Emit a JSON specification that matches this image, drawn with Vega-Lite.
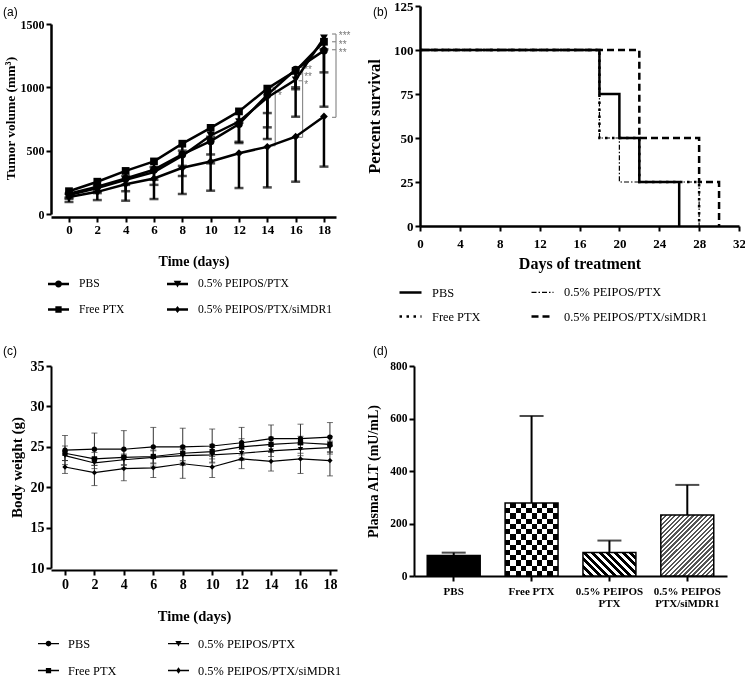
{
"$schema": "https://vega.github.io/schema/vega-lite/v6.json",
"background": "white",
"padding": {"left": 3, "top": 0, "right": 0, "bottom": 0},
"columns": 2,
"bounds": "flush",
"align": "each",
"spacing": {"row": 140, "column": 77},
"resolve": {"scale": {"shape": "independent", "strokeDash": "independent", "strokeWidth": "independent", "x": "independent", "y": "independent"}, "legend": {"shape": "independent", "strokeDash": "independent", "strokeWidth": "independent"}},
"config": {
  "view": {"stroke": null},
  "font": "Liberation Serif",
  "axis": {"grid": false, "domainColor": "black", "tickColor": "black", "domainWidth": 2.5, "tickWidth": 2, "tickSize": 5, "labelFont": "Liberation Serif", "labelFontWeight": "bold", "labelColor": "black", "titleFont": "Liberation Serif", "titleFontWeight": "bold", "titleColor": "black", "labelOverlap": false, "labelFlush": false},
  "legend": {"labelFont": "Liberation Serif", "labelColor": "black", "titleFont": "Liberation Serif"},
  "title": {"font": "Liberation Sans", "fontWeight": "normal", "fontSize": 12, "color": "black", "anchor": "start", "frame": "group"}
},
"datasets": {
  "tumor": [
    {"series": "PBS", "day": 0, "mean": 160, "lo": 130},
    {"series": "PBS", "day": 2, "mean": 215, "lo": 180},
    {"series": "PBS", "day": 4, "mean": 280, "lo": 230},
    {"series": "PBS", "day": 6, "mean": 350, "lo": 270},
    {"series": "PBS", "day": 8, "mean": 470, "lo": 380},
    {"series": "PBS", "day": 10, "mean": 575, "lo": 470},
    {"series": "PBS", "day": 12, "mean": 710, "lo": 570},
    {"series": "PBS", "day": 14, "mean": 940, "lo": 684},
    {"series": "PBS", "day": 16, "mean": 1140, "lo": 768},
    {"series": "PBS", "day": 18, "mean": 1290, "lo": 847},
    {"series": "Free PTX", "day": 0, "mean": 180, "lo": 160},
    {"series": "Free PTX", "day": 2, "mean": 255, "lo": 225},
    {"series": "Free PTX", "day": 4, "mean": 340, "lo": 300},
    {"series": "Free PTX", "day": 6, "mean": 415, "lo": 370},
    {"series": "Free PTX", "day": 8, "mean": 555, "lo": 500},
    {"series": "Free PTX", "day": 10, "mean": 680, "lo": 610},
    {"series": "Free PTX", "day": 12, "mean": 810, "lo": 720},
    {"series": "Free PTX", "day": 14, "mean": 990, "lo": 592},
    {"series": "Free PTX", "day": 16, "mean": 1130, "lo": 1000},
    {"series": "Free PTX", "day": 18, "mean": 1360, "lo": 1300},
    {"series": "0.5% PEIPOS/PTX", "day": 0, "mean": 150, "lo": 120},
    {"series": "0.5% PEIPOS/PTX", "day": 2, "mean": 205, "lo": 165},
    {"series": "0.5% PEIPOS/PTX", "day": 4, "mean": 270, "lo": 180},
    {"series": "0.5% PEIPOS/PTX", "day": 6, "mean": 330, "lo": 230},
    {"series": "0.5% PEIPOS/PTX", "day": 8, "mean": 460, "lo": 300},
    {"series": "0.5% PEIPOS/PTX", "day": 10, "mean": 620, "lo": 400},
    {"series": "0.5% PEIPOS/PTX", "day": 12, "mean": 730, "lo": 560},
    {"series": "0.5% PEIPOS/PTX", "day": 14, "mean": 920, "lo": 797},
    {"series": "0.5% PEIPOS/PTX", "day": 16, "mean": 1060, "lo": 985},
    {"series": "0.5% PEIPOS/PTX", "day": 18, "mean": 1390, "lo": 1118},
    {"series": "0.5% PEIPOS/PTX/siMDR1", "day": 0, "mean": 135, "lo": 95},
    {"series": "0.5% PEIPOS/PTX/siMDR1", "day": 2, "mean": 175, "lo": 110},
    {"series": "0.5% PEIPOS/PTX/siMDR1", "day": 4, "mean": 235, "lo": 105},
    {"series": "0.5% PEIPOS/PTX/siMDR1", "day": 6, "mean": 280, "lo": 118},
    {"series": "0.5% PEIPOS/PTX/siMDR1", "day": 8, "mean": 365, "lo": 158},
    {"series": "0.5% PEIPOS/PTX/siMDR1", "day": 10, "mean": 415, "lo": 184},
    {"series": "0.5% PEIPOS/PTX/siMDR1", "day": 12, "mean": 480, "lo": 205},
    {"series": "0.5% PEIPOS/PTX/siMDR1", "day": 14, "mean": 530, "lo": 210},
    {"series": "0.5% PEIPOS/PTX/siMDR1", "day": 16, "mean": 610, "lo": 255},
    {"series": "0.5% PEIPOS/PTX/siMDR1", "day": 18, "mean": 770, "lo": 374}
  ],
  "sig_v": [
    {"x": 14.56, "y": 539, "y2": 1000},
    {"x": 16.49, "y": 605, "y2": 1158},
    {"x": 18.85, "y": 763, "y2": 1421}
  ],
  "sig_h": [
    {"x": 14.28, "x2": 14.56, "y": 539},
    {"x": 14.28, "x2": 14.56, "y": 1000},
    {"x": 16.21, "x2": 16.49, "y": 605},
    {"x": 16.21, "x2": 16.49, "y": 1158},
    {"x": 16.21, "x2": 16.49, "y": 1105},
    {"x": 16.21, "x2": 16.49, "y": 1052},
    {"x": 18.57, "x2": 18.85, "y": 763},
    {"x": 18.57, "x2": 18.85, "y": 1421},
    {"x": 18.57, "x2": 18.85, "y": 1360},
    {"x": 18.57, "x2": 18.85, "y": 1297}
  ],
  "sig_t": [
    {"x": 14.75, "y": 955, "label": "*"},
    {"x": 16.6, "y": 1158, "label": "**"},
    {"x": 16.6, "y": 1105, "label": "**"},
    {"x": 16.6, "y": 1045, "label": "*"},
    {"x": 19.05, "y": 1430, "label": "***"},
    {"x": 19.05, "y": 1360, "label": "**"},
    {"x": 19.05, "y": 1297, "label": "**"}
  ],
  "surv": [
    {"series": "PBS", "day": 0, "pct": 100},
    {"series": "PBS", "day": 18, "pct": 75},
    {"series": "PBS", "day": 20, "pct": 50},
    {"series": "PBS", "day": 22, "pct": 25},
    {"series": "PBS", "day": 26, "pct": 0},
    {"series": "Free PTX", "day": 0, "pct": 100},
    {"series": "Free PTX", "day": 18, "pct": 50},
    {"series": "Free PTX", "day": 22, "pct": 25},
    {"series": "Free PTX", "day": 28, "pct": 0},
    {"series": "0.5% PEIPOS/PTX", "day": 0, "pct": 100},
    {"series": "0.5% PEIPOS/PTX", "day": 18, "pct": 50},
    {"series": "0.5% PEIPOS/PTX", "day": 20, "pct": 25},
    {"series": "0.5% PEIPOS/PTX", "day": 28, "pct": 0},
    {"series": "0.5% PEIPOS/PTX/siMDR1", "day": 0, "pct": 100},
    {"series": "0.5% PEIPOS/PTX/siMDR1", "day": 22, "pct": 50},
    {"series": "0.5% PEIPOS/PTX/siMDR1", "day": 28, "pct": 25},
    {"series": "0.5% PEIPOS/PTX/siMDR1", "day": 30, "pct": 0}
  ],
  "weight": [
    {"series": "PBS", "day": 0, "mean": 24.6, "lo": 22.8, "hi": 26.4},
    {"series": "PBS", "day": 2, "mean": 24.7, "lo": 22.7, "hi": 26.7},
    {"series": "PBS", "day": 4, "mean": 24.7, "lo": 22.4, "hi": 27.0},
    {"series": "PBS", "day": 6, "mean": 25.0, "lo": 22.6, "hi": 27.4},
    {"series": "PBS", "day": 8, "mean": 25.0, "lo": 22.7, "hi": 27.3},
    {"series": "PBS", "day": 10, "mean": 25.1, "lo": 23.0, "hi": 27.2},
    {"series": "PBS", "day": 12, "mean": 25.5, "lo": 23.6, "hi": 27.4},
    {"series": "PBS", "day": 14, "mean": 26.0, "lo": 24.3, "hi": 27.7},
    {"series": "PBS", "day": 16, "mean": 26.0, "lo": 24.2, "hi": 27.8},
    {"series": "PBS", "day": 18, "mean": 26.2, "lo": 24.4, "hi": 28.0},
    {"series": "Free PTX", "day": 0, "mean": 24.2, "lo": 23.3, "hi": 25.1},
    {"series": "Free PTX", "day": 2, "mean": 23.5, "lo": 22.7, "hi": 24.3},
    {"series": "Free PTX", "day": 4, "mean": 23.7, "lo": 22.8, "hi": 24.6},
    {"series": "Free PTX", "day": 6, "mean": 23.8, "lo": 23.0, "hi": 24.6},
    {"series": "Free PTX", "day": 8, "mean": 24.2, "lo": 23.3, "hi": 25.1},
    {"series": "Free PTX", "day": 10, "mean": 24.4, "lo": 23.5, "hi": 25.3},
    {"series": "Free PTX", "day": 12, "mean": 25.0, "lo": 24.0, "hi": 26.0},
    {"series": "Free PTX", "day": 14, "mean": 25.3, "lo": 24.4, "hi": 26.2},
    {"series": "Free PTX", "day": 16, "mean": 25.5, "lo": 24.7, "hi": 26.3},
    {"series": "Free PTX", "day": 18, "mean": 25.3, "lo": 24.3, "hi": 26.3},
    {"series": "0.5% PEIPOS/PTX", "day": 0, "mean": 23.9, "lo": 23.3, "hi": 24.5},
    {"series": "0.5% PEIPOS/PTX", "day": 2, "mean": 23.0, "lo": 22.3, "hi": 23.7},
    {"series": "0.5% PEIPOS/PTX", "day": 4, "mean": 23.4, "lo": 22.7, "hi": 24.1},
    {"series": "0.5% PEIPOS/PTX", "day": 6, "mean": 23.7, "lo": 22.9, "hi": 24.5},
    {"series": "0.5% PEIPOS/PTX", "day": 8, "mean": 23.9, "lo": 23.1, "hi": 24.7},
    {"series": "0.5% PEIPOS/PTX", "day": 10, "mean": 24.0, "lo": 23.1, "hi": 24.9},
    {"series": "0.5% PEIPOS/PTX", "day": 12, "mean": 24.2, "lo": 23.3, "hi": 25.1},
    {"series": "0.5% PEIPOS/PTX", "day": 14, "mean": 24.5, "lo": 23.8, "hi": 25.2},
    {"series": "0.5% PEIPOS/PTX", "day": 16, "mean": 24.7, "lo": 23.9, "hi": 25.5},
    {"series": "0.5% PEIPOS/PTX", "day": 18, "mean": 24.9, "lo": 24.1, "hi": 25.7},
    {"series": "0.5% PEIPOS/PTX/siMDR1", "day": 0, "mean": 22.5, "lo": 21.7, "hi": 23.3},
    {"series": "0.5% PEIPOS/PTX/siMDR1", "day": 2, "mean": 21.8, "lo": 20.2, "hi": 23.4},
    {"series": "0.5% PEIPOS/PTX/siMDR1", "day": 4, "mean": 22.3, "lo": 20.8, "hi": 23.8},
    {"series": "0.5% PEIPOS/PTX/siMDR1", "day": 6, "mean": 22.4, "lo": 21.2, "hi": 23.6},
    {"series": "0.5% PEIPOS/PTX/siMDR1", "day": 8, "mean": 22.9, "lo": 21.1, "hi": 24.7},
    {"series": "0.5% PEIPOS/PTX/siMDR1", "day": 10, "mean": 22.5, "lo": 21.2, "hi": 23.8},
    {"series": "0.5% PEIPOS/PTX/siMDR1", "day": 12, "mean": 23.5, "lo": 22.3, "hi": 24.7},
    {"series": "0.5% PEIPOS/PTX/siMDR1", "day": 14, "mean": 23.2, "lo": 22.0, "hi": 24.4},
    {"series": "0.5% PEIPOS/PTX/siMDR1", "day": 16, "mean": 23.5, "lo": 21.7, "hi": 25.3},
    {"series": "0.5% PEIPOS/PTX/siMDR1", "day": 18, "mean": 23.3, "lo": 21.4, "hi": 25.2}
  ],
  "alt": [
    {"group": "PBS", "alt": 78, "hi": 89},
    {"group": "Free PTX", "alt": 278, "hi": 610},
    {"group": "0.5% PEIPOS|PTX", "alt": 90, "hi": 135},
    {"group": "0.5% PEIPOS|PTX/siMDR1", "alt": 232, "hi": 347}
  ]
},
"concat": [
  {
    "width": 285, "height": 211,
    "title": {"text": "(a)", "dx": -48, "dy": 18, "baseline": "middle", "offset": 0},
    "layer": [
      {"data": {"name": "sig_v"}, "mark": {"type": "rule", "color": "#8c8c8c", "strokeWidth": 1.2},
       "encoding": {
         "x": {"field": "x", "type": "quantitative", "scale": {"domain": [-1.27, 18.85], "nice": false, "zero": false}, "title": "Time (days)",
               "axis": {"values": [0, 2, 4, 6, 8, 10, 12, 14, 16, 18], "format": "d", "labelFontSize": 13, "titleFontSize": 14, "labelPadding": 1.5, "titlePadding": 18}},
         "y": {"field": "y", "type": "quantitative", "scale": {"domain": [0, 1500], "range": [208, 18], "nice": false, "zero": false}, "title": "Tumor volume (mm³)",
               "axis": {"values": [0, 500, 1000, 1500], "format": "d", "labelFontSize": 12, "titleFontSize": 13.5, "labelPadding": 2, "titlePadding": 3, "titleY": 112}},
         "y2": {"field": "y2"}}},
      {"data": {"name": "sig_h"}, "mark": {"type": "rule", "color": "#8c8c8c", "strokeWidth": 1.2},
       "encoding": {
         "x": {"field": "x", "type": "quantitative", "scale": {"domain": [-1.27, 18.85], "nice": false, "zero": false}, "title": "Time (days)",
               "axis": {"values": [0, 2, 4, 6, 8, 10, 12, 14, 16, 18], "format": "d", "labelFontSize": 13, "titleFontSize": 14, "labelPadding": 1.5, "titlePadding": 18}},
         "x2": {"field": "x2"},
         "y": {"field": "y", "type": "quantitative", "scale": {"domain": [0, 1500], "range": [208, 18], "nice": false, "zero": false}, "title": "Tumor volume (mm³)",
               "axis": {"values": [0, 500, 1000, 1500], "format": "d", "labelFontSize": 12, "titleFontSize": 13.5, "labelPadding": 2, "titlePadding": 3, "titleY": 112}}}},
      {"data": {"name": "sig_t"}, "mark": {"type": "text", "color": "#777777", "fontSize": 10, "align": "left", "baseline": "middle", "dy": 3, "font": "Liberation Sans"},
       "encoding": {
         "x": {"field": "x", "type": "quantitative", "scale": {"domain": [-1.27, 18.85], "nice": false, "zero": false}, "title": "Time (days)",
               "axis": {"values": [0, 2, 4, 6, 8, 10, 12, 14, 16, 18], "format": "d", "labelFontSize": 13, "titleFontSize": 14, "labelPadding": 1.5, "titlePadding": 18}},
         "y": {"field": "y", "type": "quantitative", "scale": {"domain": [0, 1500], "range": [208, 18], "nice": false, "zero": false}, "title": "Tumor volume (mm³)",
               "axis": {"values": [0, 500, 1000, 1500], "format": "d", "labelFontSize": 12, "titleFontSize": 13.5, "labelPadding": 2, "titlePadding": 3, "titleY": 112}},
         "text": {"field": "label"}}},
      {"data": {"name": "tumor"}, "mark": {"type": "rule", "color": "black", "strokeWidth": 2.5},
       "encoding": {
         "x": {"field": "day", "type": "quantitative", "scale": {"domain": [-1.27, 18.85], "nice": false, "zero": false}, "title": "Time (days)",
               "axis": {"values": [0, 2, 4, 6, 8, 10, 12, 14, 16, 18], "format": "d", "labelFontSize": 13, "titleFontSize": 14, "labelPadding": 1.5, "titlePadding": 18}},
         "y": {"field": "lo", "type": "quantitative", "scale": {"domain": [0, 1500], "range": [208, 18], "nice": false, "zero": false}, "title": "Tumor volume (mm³)",
               "axis": {"values": [0, 500, 1000, 1500], "format": "d", "labelFontSize": 12, "titleFontSize": 13.5, "labelPadding": 2, "titlePadding": 3, "titleY": 112}},
         "y2": {"field": "mean"}}},
      {"data": {"name": "tumor"}, "mark": {"type": "tick", "orient": "horizontal", "color": "black", "size": 9, "thickness": 2.5},
       "encoding": {
         "x": {"field": "day", "type": "quantitative", "scale": {"domain": [-1.27, 18.85], "nice": false, "zero": false}, "title": "Time (days)",
               "axis": {"values": [0, 2, 4, 6, 8, 10, 12, 14, 16, 18], "format": "d", "labelFontSize": 13, "titleFontSize": 14, "labelPadding": 1.5, "titlePadding": 18}},
         "y": {"field": "lo", "type": "quantitative", "scale": {"domain": [0, 1500], "range": [208, 18], "nice": false, "zero": false}, "title": "Tumor volume (mm³)",
               "axis": {"values": [0, 500, 1000, 1500], "format": "d", "labelFontSize": 12, "titleFontSize": 13.5, "labelPadding": 2, "titlePadding": 3, "titleY": 112}}}},
      {"data": {"name": "tumor"}, "mark": {"type": "line", "color": "black", "strokeWidth": 2.5},
       "encoding": {
         "x": {"field": "day", "type": "quantitative", "scale": {"domain": [-1.27, 18.85], "nice": false, "zero": false}, "title": "Time (days)",
               "axis": {"values": [0, 2, 4, 6, 8, 10, 12, 14, 16, 18], "format": "d", "labelFontSize": 13, "titleFontSize": 14, "labelPadding": 1.5, "titlePadding": 18}},
         "y": {"field": "mean", "type": "quantitative", "scale": {"domain": [0, 1500], "range": [208, 18], "nice": false, "zero": false}, "title": "Tumor volume (mm³)",
               "axis": {"values": [0, 500, 1000, 1500], "format": "d", "labelFontSize": 12, "titleFontSize": 13.5, "labelPadding": 2, "titlePadding": 3, "titleY": 112}},
         "detail": {"field": "series"}}},
      {"data": {"name": "tumor"}, "mark": {"type": "point", "filled": true, "color": "black", "size": 60, "opacity": 1},
       "encoding": {
         "x": {"field": "day", "type": "quantitative", "scale": {"domain": [-1.27, 18.85], "nice": false, "zero": false}, "title": "Time (days)",
               "axis": {"values": [0, 2, 4, 6, 8, 10, 12, 14, 16, 18], "format": "d", "labelFontSize": 13, "titleFontSize": 14, "labelPadding": 1.5, "titlePadding": 18}},
         "y": {"field": "mean", "type": "quantitative", "scale": {"domain": [0, 1500], "range": [208, 18], "nice": false, "zero": false}, "title": "Tumor volume (mm³)",
               "axis": {"values": [0, 500, 1000, 1500], "format": "d", "labelFontSize": 12, "titleFontSize": 13.5, "labelPadding": 2, "titlePadding": 3, "titleY": 112}},
         "shape": {"field": "series", "type": "nominal", "scale": {"domain": ["PBS", "Free PTX", "0.5% PEIPOS/PTX", "0.5% PEIPOS/PTX/siMDR1"], "range": ["circle", "square", "triangle-down", "diamond"]}, "legend": null}}},
      {"data": {"name": "tumor"}, "transform": [{"filter": "false"}], "mark": {"type": "point", "filled": true, "color": "black", "opacity": 1},
       "encoding": {
         "x": {"field": "day", "type": "quantitative", "scale": {"domain": [-1.27, 18.85], "nice": false, "zero": false}, "title": "Time (days)",
               "axis": {"values": [0, 2, 4, 6, 8, 10, 12, 14, 16, 18], "format": "d", "labelFontSize": 13, "titleFontSize": 14, "labelPadding": 1.5, "titlePadding": 18}},
         "y": {"field": "mean", "type": "quantitative", "scale": {"domain": [0, 1500], "range": [208, 18], "nice": false, "zero": false}, "title": "Tumor volume (mm³)",
               "axis": {"values": [0, 500, 1000, 1500], "format": "d", "labelFontSize": 12, "titleFontSize": 13.5, "labelPadding": 2, "titlePadding": 3, "titleY": 112}},
         "shape": {"field": "series", "type": "nominal",
           "scale": {"domain": ["PBS", "Free PTX", "0.5% PEIPOS/PTX", "0.5% PEIPOS/PTX/siMDR1"],
                     "range": ["M-1,-0.12H1V0.12H-1ZM0.33,0A0.33,0.33,0,1,1,-0.33,0A0.33,0.33,0,1,1,0.33,0Z", "M-1,-0.12H1V0.12H-1ZM-0.3,-0.3H0.3V0.3H-0.3Z", "M-1,-0.12H1V0.12H-1ZM-0.36,-0.3H0.36L0,0.34Z", "M-1,-0.12H1V0.12H-1ZM0,-0.34L0.26,0L0,0.34L-0.26,0Z"]},
           "legend": {"title": null, "orient": "none", "legendX": -3, "legendY": 267, "columns": 2, "columnPadding": 42, "rowPadding": 9, "symbolSize": 441, "symbolStrokeWidth": 0, "symbolFillColor": "black", "labelFontSize": 11.6, "labelOffset": 10}}}}
    ],
    "resolve": {"scale": {"shape": "independent"}}
  },
  {
    "width": 325, "height": 220,
    "title": {"text": "(b)", "dx": -41, "dy": 24, "baseline": "middle", "offset": 0},
    "data": {"name": "surv"},
    "mark": {"type": "line", "interpolate": "step-after", "color": "black", "strokeCap": "butt"},
    "encoding": {
      "x": {"field": "day", "type": "quantitative", "scale": {"domain": [0, 32], "range": [6, 325], "nice": false, "zero": false}, "title": "Days of treatment",
            "axis": {"values": [0, 4, 8, 12, 16, 20, 24, 28, 32], "labelFontSize": 13, "titleFontSize": 16, "labelPadding": 6, "titlePadding": 5}},
      "y": {"field": "pct", "type": "quantitative", "scale": {"domain": [0, 125], "nice": false}, "title": "Percent survival",
            "axis": {"values": [0, 25, 50, 75, 100, 125], "offset": -6, "labelFontSize": 13, "titleFontSize": 16.5, "titlePadding": 11}},
      "strokeDash": {"field": "series", "type": "nominal",
        "scale": {"type": "ordinal", "domain": ["PBS", "Free PTX", "0.5% PEIPOS/PTX", "0.5% PEIPOS/PTX/siMDR1"], "range": [[1, 0], [2.5, 4.5], [5, 2, 1.5, 2], [7, 4]]},
        "legend": {"title": null, "orient": "none", "legendX": -16, "legendY": 274, "columns": 2, "columnPadding": 45, "rowPadding": 5, "symbolType": "stroke", "symbolSize": 484, "symbolStrokeColor": "black", "labelFontSize": 12.4, "labelOffset": 9}},
      "strokeWidth": {"field": "series", "type": "nominal",
        "scale": {"type": "ordinal", "domain": ["PBS", "Free PTX", "0.5% PEIPOS/PTX", "0.5% PEIPOS/PTX/siMDR1"], "range": [2.5, 2.5, 1.2, 2.5]},
        "legend": {"title": null, "orient": "none", "legendX": -16, "legendY": 274, "columns": 2, "columnPadding": 45, "rowPadding": 5, "symbolType": "stroke", "symbolSize": 484, "symbolStrokeColor": "black", "labelFontSize": 12.4, "labelOffset": 9}}
    }
  },
  {
    "width": 286, "height": 202,
    "title": {"text": "(c)", "dx": -48, "dy": 4, "baseline": "middle", "offset": 0},
    "layer": [
      {"data": {"name": "weight"}, "mark": {"type": "rule", "color": "#333333", "strokeWidth": 1},
       "encoding": {
         "x": {"field": "day", "type": "quantitative", "scale": {"domain": [-0.95, 18.48], "nice": false, "zero": false}, "title": "Time (days)",
               "axis": {"values": [0, 2, 4, 6, 8, 10, 12, 14, 16, 18], "format": "d", "offset": 2, "labelFontSize": 14, "titleFontSize": 14.5, "labelPadding": 2, "titlePadding": 18, "domainWidth": 2}},
         "y": {"field": "lo", "type": "quantitative", "scale": {"domain": [10, 35], "nice": false, "zero": false}, "title": "Body weight (g)",
               "axis": {"values": [10, 15, 20, 25, 30, 35], "labelFontSize": 14, "titleFontSize": 15, "labelPadding": 2, "titlePadding": 6, "domainWidth": 2}},
         "y2": {"field": "hi"}}},
      {"data": {"name": "weight"}, "mark": {"type": "tick", "orient": "horizontal", "color": "#333333", "size": 6, "thickness": 1},
       "encoding": {
         "x": {"field": "day", "type": "quantitative", "scale": {"domain": [-0.95, 18.48], "nice": false, "zero": false}, "title": "Time (days)",
               "axis": {"values": [0, 2, 4, 6, 8, 10, 12, 14, 16, 18], "format": "d", "offset": 2, "labelFontSize": 14, "titleFontSize": 14.5, "labelPadding": 2, "titlePadding": 18, "domainWidth": 2}},
         "y": {"field": "lo", "type": "quantitative", "scale": {"domain": [10, 35], "nice": false, "zero": false}, "title": "Body weight (g)",
               "axis": {"values": [10, 15, 20, 25, 30, 35], "labelFontSize": 14, "titleFontSize": 15, "labelPadding": 2, "titlePadding": 6, "domainWidth": 2}}}},
      {"data": {"name": "weight"}, "mark": {"type": "tick", "orient": "horizontal", "color": "#333333", "size": 6, "thickness": 1},
       "encoding": {
         "x": {"field": "day", "type": "quantitative", "scale": {"domain": [-0.95, 18.48], "nice": false, "zero": false}, "title": "Time (days)",
               "axis": {"values": [0, 2, 4, 6, 8, 10, 12, 14, 16, 18], "format": "d", "offset": 2, "labelFontSize": 14, "titleFontSize": 14.5, "labelPadding": 2, "titlePadding": 18, "domainWidth": 2}},
         "y": {"field": "hi", "type": "quantitative", "scale": {"domain": [10, 35], "nice": false, "zero": false}, "title": "Body weight (g)",
               "axis": {"values": [10, 15, 20, 25, 30, 35], "labelFontSize": 14, "titleFontSize": 15, "labelPadding": 2, "titlePadding": 6, "domainWidth": 2}}}},
      {"data": {"name": "weight"}, "mark": {"type": "line", "color": "black", "strokeWidth": 1.2},
       "encoding": {
         "x": {"field": "day", "type": "quantitative", "scale": {"domain": [-0.95, 18.48], "nice": false, "zero": false}, "title": "Time (days)",
               "axis": {"values": [0, 2, 4, 6, 8, 10, 12, 14, 16, 18], "format": "d", "offset": 2, "labelFontSize": 14, "titleFontSize": 14.5, "labelPadding": 2, "titlePadding": 18, "domainWidth": 2}},
         "y": {"field": "mean", "type": "quantitative", "scale": {"domain": [10, 35], "nice": false, "zero": false}, "title": "Body weight (g)",
               "axis": {"values": [10, 15, 20, 25, 30, 35], "labelFontSize": 14, "titleFontSize": 15, "labelPadding": 2, "titlePadding": 6, "domainWidth": 2}},
         "detail": {"field": "series"}}},
      {"data": {"name": "weight"}, "mark": {"type": "point", "filled": true, "color": "black", "size": 28, "opacity": 1},
       "encoding": {
         "x": {"field": "day", "type": "quantitative", "scale": {"domain": [-0.95, 18.48], "nice": false, "zero": false}, "title": "Time (days)",
               "axis": {"values": [0, 2, 4, 6, 8, 10, 12, 14, 16, 18], "format": "d", "offset": 2, "labelFontSize": 14, "titleFontSize": 14.5, "labelPadding": 2, "titlePadding": 18, "domainWidth": 2}},
         "y": {"field": "mean", "type": "quantitative", "scale": {"domain": [10, 35], "nice": false, "zero": false}, "title": "Body weight (g)",
               "axis": {"values": [10, 15, 20, 25, 30, 35], "labelFontSize": 14, "titleFontSize": 15, "labelPadding": 2, "titlePadding": 6, "domainWidth": 2}},
         "shape": {"field": "series", "type": "nominal", "scale": {"domain": ["PBS", "Free PTX", "0.5% PEIPOS/PTX", "0.5% PEIPOS/PTX/siMDR1"], "range": ["circle", "square", "triangle-down", "diamond"]}, "legend": null}}},
      {"data": {"name": "weight"}, "transform": [{"filter": "false"}], "mark": {"type": "point", "filled": true, "color": "black", "opacity": 1},
       "encoding": {
         "x": {"field": "day", "type": "quantitative", "scale": {"domain": [-0.95, 18.48], "nice": false, "zero": false}, "title": "Time (days)",
               "axis": {"values": [0, 2, 4, 6, 8, 10, 12, 14, 16, 18], "format": "d", "offset": 2, "labelFontSize": 14, "titleFontSize": 14.5, "labelPadding": 2, "titlePadding": 18, "domainWidth": 2}},
         "y": {"field": "mean", "type": "quantitative", "scale": {"domain": [10, 35], "nice": false, "zero": false}, "title": "Body weight (g)",
               "axis": {"values": [10, 15, 20, 25, 30, 35], "labelFontSize": 14, "titleFontSize": 15, "labelPadding": 2, "titlePadding": 6, "domainWidth": 2}},
         "shape": {"field": "series", "type": "nominal",
           "scale": {"domain": ["PBS", "Free PTX", "0.5% PEIPOS/PTX", "0.5% PEIPOS/PTX/siMDR1"],
                     "range": ["M-1,-0.06H1V0.06H-1ZM0.27,0A0.27,0.27,0,1,1,-0.27,0A0.27,0.27,0,1,1,0.27,0Z", "M-1,-0.06H1V0.06H-1ZM-0.25,-0.25H0.25V0.25H-0.25Z", "M-1,-0.06H1V0.06H-1ZM-0.3,-0.25H0.3L0,0.28Z", "M-1,-0.06H1V0.06H-1ZM0,-0.3L0.22,0L0,0.3L-0.22,0Z"]},
           "legend": {"title": null, "orient": "none", "legendX": -13, "legendY": 267, "columns": 2, "columnPadding": 51, "rowPadding": 10, "symbolSize": 441, "symbolStrokeWidth": 0, "symbolFillColor": "black", "labelFontSize": 12.4, "labelOffset": 9}}}}
    ],
    "resolve": {"scale": {"shape": "independent"}}
  },
  {
    "width": 313, "height": 210,
    "title": {"text": "(d)", "dx": -41, "dy": 3, "baseline": "middle", "offset": 0},
    "data": {"name": "alt"},
    "encoding": {
      "x": {"field": "group", "type": "nominal", "title": null,
            "scale": {"domain": ["PBS", "Free PTX", "0.5% PEIPOS|PTX", "0.5% PEIPOS|PTX/siMDR1"], "paddingInner": 0.32, "paddingOuter": 0.17},
            "axis": {"labelExpr": "split(datum.label, '|')", "labelAngle": 0, "labelFontSize": 11, "labelPadding": 4, "labelLineHeight": 12, "domainWidth": 2}},
      "y": {"field": "alt", "type": "quantitative", "scale": {"domain": [0, 800], "nice": false}, "title": "Plasma ALT (mU/mL)",
            "axis": {"values": [0, 200, 400, 600, 800], "labelFontSize": 11.5, "titleFontSize": 14, "titlePadding": 9, "domainWidth": 2}}
    },
    "layer": [
      {"transform": [{"filter": "datum.group === 'PBS'"}], "mark": {"type": "bar", "fill": "black"}},
      {"transform": [{"filter": "datum.group === 'Free PTX'"}],
       "mark": {"type": "bar", "fill": {"gradient": "linear", "x1": 0, "y1": 0, "x2": 1, "y2": 0, "stops": [
         {"offset": 0, "color": "black"}, {"offset": 0.1, "color": "black"}, {"offset": 0.1, "color": "white"}, {"offset": 0.2, "color": "white"},
         {"offset": 0.2, "color": "black"}, {"offset": 0.3, "color": "black"}, {"offset": 0.3, "color": "white"}, {"offset": 0.4, "color": "white"},
         {"offset": 0.4, "color": "black"}, {"offset": 0.5, "color": "black"}, {"offset": 0.5, "color": "white"}, {"offset": 0.6, "color": "white"},
         {"offset": 0.6, "color": "black"}, {"offset": 0.7, "color": "black"}, {"offset": 0.7, "color": "white"}, {"offset": 0.8, "color": "white"},
         {"offset": 0.8, "color": "black"}, {"offset": 0.9, "color": "black"}, {"offset": 0.9, "color": "white"}, {"offset": 1, "color": "white"}]}}},
      {"transform": [{"filter": "datum.group === 'Free PTX'"}],
       "mark": {"type": "bar", "blend": "difference", "fill": {"gradient": "linear", "x1": 0, "y1": 0, "x2": 0, "y2": 1, "stops": [
         {"offset": 0, "color": "white"}, {"offset": 0.0714, "color": "white"}, {"offset": 0.0714, "color": "rgba(255,255,255,0)"}, {"offset": 0.1429, "color": "rgba(255,255,255,0)"},
         {"offset": 0.1429, "color": "white"}, {"offset": 0.2143, "color": "white"}, {"offset": 0.2143, "color": "rgba(255,255,255,0)"}, {"offset": 0.2857, "color": "rgba(255,255,255,0)"},
         {"offset": 0.2857, "color": "white"}, {"offset": 0.3571, "color": "white"}, {"offset": 0.3571, "color": "rgba(255,255,255,0)"}, {"offset": 0.4286, "color": "rgba(255,255,255,0)"},
         {"offset": 0.4286, "color": "white"}, {"offset": 0.5, "color": "white"}, {"offset": 0.5, "color": "rgba(255,255,255,0)"}, {"offset": 0.5714, "color": "rgba(255,255,255,0)"},
         {"offset": 0.5714, "color": "white"}, {"offset": 0.6429, "color": "white"}, {"offset": 0.6429, "color": "rgba(255,255,255,0)"}, {"offset": 0.7143, "color": "rgba(255,255,255,0)"},
         {"offset": 0.7143, "color": "white"}, {"offset": 0.7857, "color": "white"}, {"offset": 0.7857, "color": "rgba(255,255,255,0)"}, {"offset": 0.8571, "color": "rgba(255,255,255,0)"},
         {"offset": 0.8571, "color": "white"}, {"offset": 0.9286, "color": "white"}, {"offset": 0.9286, "color": "rgba(255,255,255,0)"}, {"offset": 1, "color": "rgba(255,255,255,0)"}]}}},
      {"transform": [{"filter": "datum.group === '0.5% PEIPOS|PTX'"}],
       "mark": {"type": "bar", "fill": {"gradient": "linear", "x1": 0, "y1": 1, "x2": 1.206, "y2": 0.463, "stops": [
         {"offset": 0, "color": "black"}, {"offset": 0.05, "color": "black"}, {"offset": 0.05, "color": "white"}, {"offset": 0.1, "color": "white"},
         {"offset": 0.1, "color": "black"}, {"offset": 0.15, "color": "black"}, {"offset": 0.15, "color": "white"}, {"offset": 0.2, "color": "white"},
         {"offset": 0.2, "color": "black"}, {"offset": 0.25, "color": "black"}, {"offset": 0.25, "color": "white"}, {"offset": 0.3, "color": "white"},
         {"offset": 0.3, "color": "black"}, {"offset": 0.35, "color": "black"}, {"offset": 0.35, "color": "white"}, {"offset": 0.4, "color": "white"},
         {"offset": 0.4, "color": "black"}, {"offset": 0.45, "color": "black"}, {"offset": 0.45, "color": "white"}, {"offset": 0.5, "color": "white"},
         {"offset": 0.5, "color": "black"}, {"offset": 0.55, "color": "black"}, {"offset": 0.55, "color": "white"}, {"offset": 0.6, "color": "white"},
         {"offset": 0.6, "color": "black"}, {"offset": 0.65, "color": "black"}, {"offset": 0.65, "color": "white"}, {"offset": 0.7, "color": "white"},
         {"offset": 0.7, "color": "black"}, {"offset": 0.75, "color": "black"}, {"offset": 0.75, "color": "white"}, {"offset": 0.8, "color": "white"},
         {"offset": 0.8, "color": "black"}, {"offset": 0.85, "color": "black"}, {"offset": 0.85, "color": "white"}, {"offset": 0.9, "color": "white"},
         {"offset": 0.9, "color": "black"}, {"offset": 0.95, "color": "black"}, {"offset": 0.95, "color": "white"}, {"offset": 1, "color": "white"}]}}},
      {"transform": [{"filter": "datum.group === '0.5% PEIPOS|PTX/siMDR1'"}],
       "mark": {"type": "bar", "fill": {"gradient": "linear", "x1": 0, "y1": 0, "x2": 0.925, "y2": 1.065, "stops": [
         {"offset": 0, "color": "#555"}, {"offset": 0.02, "color": "#555"}, {"offset": 0.02, "color": "#fff"}, {"offset": 0.04, "color": "#fff"},
         {"offset": 0.04, "color": "#555"}, {"offset": 0.06, "color": "#555"}, {"offset": 0.06, "color": "#fff"}, {"offset": 0.08, "color": "#fff"},
         {"offset": 0.08, "color": "#555"}, {"offset": 0.10, "color": "#555"}, {"offset": 0.10, "color": "#fff"}, {"offset": 0.12, "color": "#fff"},
         {"offset": 0.12, "color": "#555"}, {"offset": 0.14, "color": "#555"}, {"offset": 0.14, "color": "#fff"}, {"offset": 0.16, "color": "#fff"},
         {"offset": 0.16, "color": "#555"}, {"offset": 0.18, "color": "#555"}, {"offset": 0.18, "color": "#fff"}, {"offset": 0.20, "color": "#fff"},
         {"offset": 0.20, "color": "#555"}, {"offset": 0.22, "color": "#555"}, {"offset": 0.22, "color": "#fff"}, {"offset": 0.24, "color": "#fff"},
         {"offset": 0.24, "color": "#555"}, {"offset": 0.26, "color": "#555"}, {"offset": 0.26, "color": "#fff"}, {"offset": 0.28, "color": "#fff"},
         {"offset": 0.28, "color": "#555"}, {"offset": 0.30, "color": "#555"}, {"offset": 0.30, "color": "#fff"}, {"offset": 0.32, "color": "#fff"},
         {"offset": 0.32, "color": "#555"}, {"offset": 0.34, "color": "#555"}, {"offset": 0.34, "color": "#fff"}, {"offset": 0.36, "color": "#fff"},
         {"offset": 0.36, "color": "#555"}, {"offset": 0.38, "color": "#555"}, {"offset": 0.38, "color": "#fff"}, {"offset": 0.40, "color": "#fff"},
         {"offset": 0.40, "color": "#555"}, {"offset": 0.42, "color": "#555"}, {"offset": 0.42, "color": "#fff"}, {"offset": 0.44, "color": "#fff"},
         {"offset": 0.44, "color": "#555"}, {"offset": 0.46, "color": "#555"}, {"offset": 0.46, "color": "#fff"}, {"offset": 0.48, "color": "#fff"},
         {"offset": 0.48, "color": "#555"}, {"offset": 0.50, "color": "#555"}, {"offset": 0.50, "color": "#fff"}, {"offset": 0.52, "color": "#fff"},
         {"offset": 0.52, "color": "#555"}, {"offset": 0.54, "color": "#555"}, {"offset": 0.54, "color": "#fff"}, {"offset": 0.56, "color": "#fff"},
         {"offset": 0.56, "color": "#555"}, {"offset": 0.58, "color": "#555"}, {"offset": 0.58, "color": "#fff"}, {"offset": 0.60, "color": "#fff"},
         {"offset": 0.60, "color": "#555"}, {"offset": 0.62, "color": "#555"}, {"offset": 0.62, "color": "#fff"}, {"offset": 0.64, "color": "#fff"},
         {"offset": 0.64, "color": "#555"}, {"offset": 0.66, "color": "#555"}, {"offset": 0.66, "color": "#fff"}, {"offset": 0.68, "color": "#fff"},
         {"offset": 0.68, "color": "#555"}, {"offset": 0.70, "color": "#555"}, {"offset": 0.70, "color": "#fff"}, {"offset": 0.72, "color": "#fff"},
         {"offset": 0.72, "color": "#555"}, {"offset": 0.74, "color": "#555"}, {"offset": 0.74, "color": "#fff"}, {"offset": 0.76, "color": "#fff"},
         {"offset": 0.76, "color": "#555"}, {"offset": 0.78, "color": "#555"}, {"offset": 0.78, "color": "#fff"}, {"offset": 0.80, "color": "#fff"},
         {"offset": 0.80, "color": "#555"}, {"offset": 0.82, "color": "#555"}, {"offset": 0.82, "color": "#fff"}, {"offset": 0.84, "color": "#fff"},
         {"offset": 0.84, "color": "#555"}, {"offset": 0.86, "color": "#555"}, {"offset": 0.86, "color": "#fff"}, {"offset": 0.88, "color": "#fff"},
         {"offset": 0.88, "color": "#555"}, {"offset": 0.90, "color": "#555"}, {"offset": 0.90, "color": "#fff"}, {"offset": 0.92, "color": "#fff"},
         {"offset": 0.92, "color": "#555"}, {"offset": 0.94, "color": "#555"}, {"offset": 0.94, "color": "#fff"}, {"offset": 0.96, "color": "#fff"},
         {"offset": 0.96, "color": "#555"}, {"offset": 0.98, "color": "#555"}, {"offset": 0.98, "color": "#fff"}, {"offset": 1, "color": "#fff"}]}}},
      {"mark": {"type": "bar", "fillOpacity": 0, "fill": "white", "stroke": "black", "strokeWidth": 1.5}},
      {"mark": {"type": "rule", "color": "black", "strokeWidth": 2},
       "encoding": {"y": {"field": "alt", "type": "quantitative", "title": "Plasma ALT (mU/mL)"}, "y2": {"field": "hi"}}},
      {"mark": {"type": "tick", "orient": "horizontal", "color": "black", "thickness": 2, "size": 24},
       "encoding": {"y": {"field": "hi", "type": "quantitative", "title": "Plasma ALT (mU/mL)"}}}
    ]
  }
]
}
